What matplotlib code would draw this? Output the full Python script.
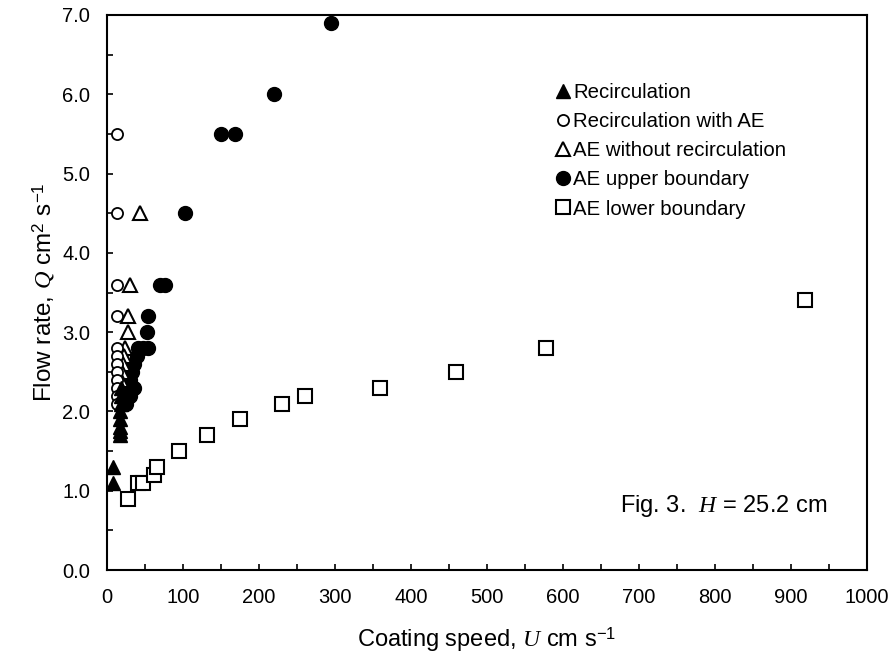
import matplotlib
matplotlib.use("Agg")
import matplotlib.pyplot as plt
from matplotlib.ticker import MultipleLocator, FormatStrFormatter

plt.rcParams['font.family'] = ['Liberation Sans', 'DejaVu Sans']
plt.rcParams['mathtext.fontset'] = 'custom'
plt.rcParams['mathtext.rm'] = 'Liberation Sans'
plt.rcParams['mathtext.it'] = 'Liberation Serif:italic'

# Recirculation (filled triangles)
rec_U = [8, 8, 17, 17, 17, 17, 17, 18, 18, 18]
rec_Q = [1.1, 1.3, 1.7, 1.75, 1.8, 1.9, 2.0, 2.1, 2.2, 2.3]

# Recirculation with AE (open circles)
rae_U = [13, 13, 13, 13, 13, 13, 13, 13, 13, 13, 13, 13]
rae_Q = [5.5, 4.5, 3.6, 3.2, 2.8, 2.7, 2.6, 2.5, 2.4, 2.3, 2.2, 2.1]

# AE without recirculation (open triangles)
aen_U = [43, 30, 28, 27, 24, 22, 21, 20, 19, 18]
aen_Q = [4.5, 3.6, 3.2, 3.0, 2.8, 2.7, 2.6, 2.5, 2.4, 2.3]

# AE upper boundary (filled circles)
aeu_U = [295, 220, 150, 168, 103, 70, 76, 54, 53, 54, 47, 41, 40, 35, 33, 30, 28, 35, 25, 30, 20, 25]
aeu_Q = [6.9, 6.0, 5.5, 5.5, 4.5, 3.6, 3.6, 3.2, 3.0, 2.8, 2.8, 2.8, 2.7, 2.6, 2.5, 2.4, 2.3, 2.3, 2.2, 2.2, 2.1, 2.1]

# AE lower boundary (open squares)
ael_U = [28, 41, 47, 62, 66, 95, 132, 175, 230, 260, 359, 459, 578, 918]
ael_Q = [0.9, 1.1, 1.1, 1.2, 1.3, 1.5, 1.7, 1.9, 2.1, 2.2, 2.3, 2.5, 2.8, 3.4]

fig = plt.figure(figsize=(8.92, 6.54), dpi=100)
# axes: x 107..867 px, y 15..570 px
ax = fig.add_axes([107/892, (654-570)/654, 760/892, 555/654])

ax.plot(aeu_U, aeu_Q, 'o', ms=10, mfc='black', mec='black', mew=1.0, ls='none', label='AE upper boundary', zorder=3)
ax.plot(ael_U, ael_Q, 's', ms=10.5, mfc='white', mec='black', mew=1.5, ls='none', label='AE lower boundary', zorder=3)
ax.plot(aen_U, aen_Q, '^', ms=10, mfc='white', mec='black', mew=1.5, ls='none', label='AE without recirculation', zorder=4)
ax.plot(rae_U, rae_Q, 'o', ms=8, mfc='white', mec='black', mew=1.3, ls='none', label='Recirculation with AE', zorder=4)
ax.plot(rec_U, rec_Q, '^', ms=9.5, mfc='black', mec='black', mew=1.0, ls='none', label='Recirculation', zorder=5)

ax.set_xlim(0, 1000)
ax.set_ylim(0, 7)
ax.xaxis.set_major_locator(MultipleLocator(100))
ax.xaxis.set_minor_locator(MultipleLocator(50))
ax.yaxis.set_major_locator(MultipleLocator(1.0))
ax.yaxis.set_minor_locator(MultipleLocator(0.5))
ax.yaxis.set_major_formatter(FormatStrFormatter('%.1f'))
ax.tick_params(which='both', direction='in', length=4, width=1.2, labelsize=14.5, pad=12)
ax.tick_params(axis='x', pad=13)
for s in ax.spines.values():
    s.set_linewidth(1.5)

ax.set_xlabel('Coating speed, $\\mathit{U}$ cm s$^{-1}$', fontsize=17, labelpad=13)
ax.set_ylabel('Flow rate, $\\mathit{Q}$ cm$^{2}$ s$^{-1}$', fontsize=17.5, labelpad=4)

handles, labels = ax.get_legend_handles_labels()
order = [4, 3, 2, 0, 1]
leg = ax.legend([handles[i] for i in order], [labels[i] for i in order],
                loc='upper left', bbox_to_anchor=(0.592, 0.878), frameon=False,
                fontsize=14.7, handlelength=0.6, handletextpad=0.2,
                labelspacing=0.5, markerscale=1.0, borderaxespad=0, borderpad=0)

ax.text(0.675, 0.105, 'Fig. 3.  $\\mathit{H}$ = 25.2 cm', transform=ax.transAxes,
        fontsize=17, ha='left', va='baseline')

fig.savefig('out.png', dpi=100)
